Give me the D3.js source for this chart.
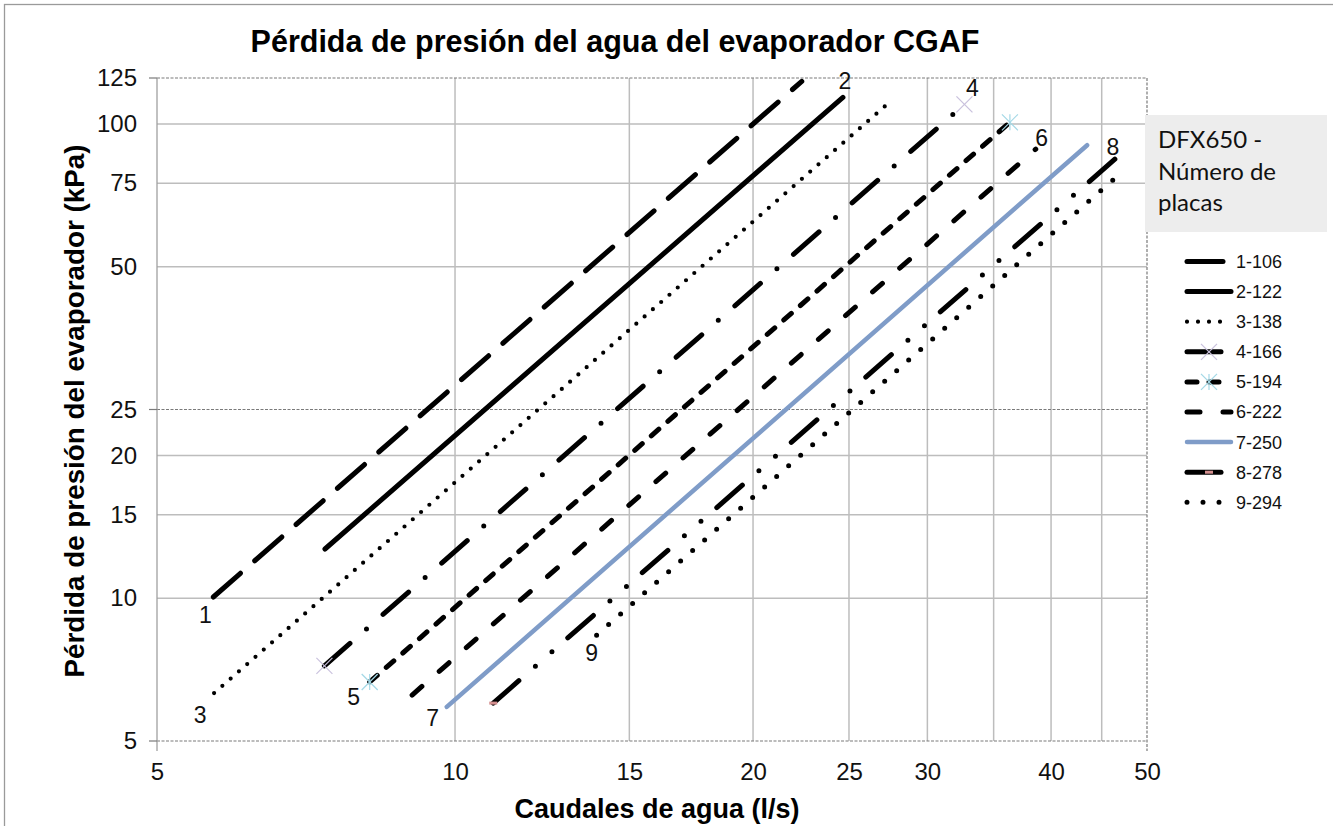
<!DOCTYPE html>
<html>
<head>
<meta charset="utf-8">
<script src="https://cdn.jsdelivr.net/npm/d3@7"></script>
<style>
  body { margin: 0; background: #fff; }
  svg { display: block; font-family: "Liberation Sans", Arial, sans-serif; }
</style>
</head>
<body>
<svg id="chart" width="1333" height="826"></svg>
<script>
// series: start and end point of each straight line (flow l/s, pressure drop kPa)
const seriesNames = ["1-106", "2-122", "3-138", "4-166", "5-194", "6-222", "7-250", "8-278", "9-294"];
const flowStart = [5.70, 7.39, 5.71, 7.38, 8.20, 9.05, 9.81, 10.93, 13.9];
const dropStart = [10.06, 12.7, 6.31, 7.20, 6.66, 6.25, 5.90, 6.01, 8.36];
const flowEnd = [22.4, 24.65, 27.4, 32.7, 36.35, 38.6, 43.5, 46.4, 46.3];
const dropEnd = [123, 113.8, 110.6, 110, 100.8, 88.5, 90.2, 84.3, 76.5];

// axis values
const xTickValues = [5, 10, 15, 20, 25, 30, 40, 50];
const xMinorGrid = [10, 15, 20, 25, 30, 35, 40, 45];
const yTickValues = [5, 10, 15, 20, 25, 50, 75, 100, 125];
const yMinorGrid = [10, 15, 20, 50, 75, 100];
const yMajorGrid = [5, 25, 125];

const chartTitle = "Pérdida de presión del agua del evaporador CGAF";
const xTitle = "Caudales de agua (l/s)";
const yTitle = "Pérdida de presión del evaporador (kPa)";
const legendTitle = ["DFX650 -", "Número de", "placas"];

// line looks, one per series
const lineStyles = [
  { stroke: "#000", width: 5, dash: "36,19" },
  { stroke: "#000", width: 5, dash: null },
  { stroke: "#000", width: 4.2, dash: "0,11" },
  { stroke: "#000", width: 5, dash: "34,22,0,22" },
  { stroke: "#000", width: 5, dash: "10,12" },
  { stroke: "#000", width: 5, dash: "13,23" },
  { stroke: "#7f9cc8", width: 4.5, dash: null },
  { stroke: "#000", width: 5, dash: "34,22,0,22,0,21" },
  { stroke: "#000", width: 5, dash: "0,16" }
];
// markers drawn at the line ends (Excel style)
const markerStyles = [null, null, null,
  { shape: "x", color: "#c9c1dd", ends: [0, 1] },
  { shape: "star", color: "#a3d8e6", ends: [0, 1] },
  null, null,
  { shape: "dash", color: "#d48f8f", ends: [0] },
  null];
// where the series number sits: which end, and offset in px
const labelPlace = [
  { end: 0, dx: -8, dy: 18 }, { end: 1, dx: 2, dy: -17 }, { end: 0, dx: -14, dy: 22 },
  { end: 1, dx: 8, dy: -17 }, { end: 0, dx: -16, dy: 15 }, { end: 1, dx: 6, dy: -11 },
  { end: 0, dx: -14, dy: 11 }, { end: 1, dx: -2, dy: -12 }, { end: 0, dx: -5, dy: 18 }
];

const svg = d3.select("#chart");
const plotLeft = 157, plotRight = 1147, plotTop = 78, plotBottom = 741;

const x = d3.scaleLog().domain([5, 50]).range([plotLeft, plotRight]);
const y = d3.scaleLog().domain([5, 125]).range([plotBottom, plotTop]);

svg.append("rect").attr("width", 1333).attr("height", 826).attr("fill", "#fff");
// outer frame of the chart
svg.append("rect").attr("x", 4.5).attr("y", 4.5).attr("width", 1340).attr("height", 840)
  .attr("fill", "none").attr("stroke", "#9a9a9a").attr("stroke-width", 1.3);

// gridlines
const grid = svg.append("g");
grid.selectAll(".vminor").data(xMinorGrid).enter().append("line")
  .attr("x1", d => x(d)).attr("x2", d => x(d)).attr("y1", plotTop).attr("y2", plotBottom)
  .attr("stroke", "#bdbdbd").attr("stroke-width", 1.5);
grid.selectAll(".hminor").data(yMinorGrid).enter().append("line")
  .attr("x1", plotLeft).attr("x2", plotRight).attr("y1", d => y(d)).attr("y2", d => y(d))
  .attr("stroke", "#bdbdbd").attr("stroke-width", 1.5);
grid.selectAll(".hmajor").data(yMajorGrid).enter().append("line")
  .attr("x1", plotLeft).attr("x2", plotRight).attr("y1", d => y(d)).attr("y2", d => y(d))
  .attr("stroke", "#7a7a7a").attr("stroke-width", 1.2).attr("stroke-dasharray", "3,1.5");
// right edge (50) dashed, left axis solid
grid.append("line").attr("x1", x(50)).attr("x2", x(50)).attr("y1", plotTop).attr("y2", plotBottom + 10)
  .attr("stroke", "#7a7a7a").attr("stroke-width", 1.2).attr("stroke-dasharray", "3,1.5");
grid.append("line").attr("x1", x(5)).attr("x2", x(5)).attr("y1", plotTop).attr("y2", plotBottom + 10)
  .attr("stroke", "#a0a0a0").attr("stroke-width", 1.3);
// major tick marks on the left
grid.selectAll(".ytick").data(yMajorGrid).enter().append("line")
  .attr("x1", plotLeft - 8).attr("x2", plotLeft).attr("y1", d => y(d)).attr("y2", d => y(d))
  .attr("stroke", "#7a7a7a").attr("stroke-width", 1.2);

// axes labels via d3 axes
const yAxis = svg.append("g").attr("transform", `translate(${plotLeft},0)`)
  .call(d3.axisLeft(y).tickValues(yTickValues).tickFormat(d3.format("d")).tickSize(0).tickPadding(20));
const xAxis = svg.append("g").attr("transform", `translate(0,${plotBottom})`)
  .call(d3.axisBottom(x).tickValues(xTickValues).tickFormat(d3.format("d")).tickSize(0).tickPadding(22));
[yAxis, xAxis].forEach(a => {
  a.select(".domain").remove();
  a.selectAll("text").attr("font-family", "Liberation Sans, Arial, sans-serif")
    .attr("font-size", 24).attr("fill", "#111");
});

// series lines
const line = d3.line().x(d => x(d[0])).y(d => y(d[1]));
const seriesData = seriesNames.map((name, i) => ({
  name: name,
  points: [[flowStart[i], dropStart[i]], [flowEnd[i], dropEnd[i]]],
  style: lineStyles[i],
  marker: markerStyles[i],
  label: labelPlace[i]
}));

svg.append("g").selectAll("path").data(seriesData).enter().append("path")
  .attr("d", d => line(d.points))
  .attr("fill", "none")
  .attr("stroke", d => d.style.stroke)
  .attr("stroke-width", d => d.style.width)
  .attr("stroke-linecap", "round")
  .attr("stroke-dasharray", d => d.style.dash);

function drawMarker(g, shape, color, cx, cy) {
  const s = 8;
  if (shape === "x" || shape === "star") {
    g.append("line").attr("x1", cx - s).attr("y1", cy - s).attr("x2", cx + s).attr("y2", cy + s)
      .attr("stroke", color).attr("stroke-width", 1.2);
    g.append("line").attr("x1", cx - s).attr("y1", cy + s).attr("x2", cx + s).attr("y2", cy - s)
      .attr("stroke", color).attr("stroke-width", 1.2);
  }
  if (shape === "star") {
    g.append("line").attr("x1", cx).attr("y1", cy - s).attr("x2", cx).attr("y2", cy + s)
      .attr("stroke", color).attr("stroke-width", 1.2);
  }
  if (shape === "dash") {
    g.append("rect").attr("x", cx - 4).attr("y", cy - 1.5).attr("width", 8).attr("height", 3)
      .attr("fill", color);
  }
}

const markers = svg.append("g");
seriesData.forEach(d => {
  if (!d.marker) return;
  d.marker.ends.forEach(e => {
    drawMarker(markers, d.marker.shape, d.marker.color, x(d.points[e][0]), y(d.points[e][1]));
  });
});

// series number labels
svg.append("g").selectAll("text").data(seriesData).enter().append("text")
  .attr("x", d => x(d.points[d.label.end][0]) + d.label.dx)
  .attr("y", d => y(d.points[d.label.end][1]) + d.label.dy)
  .attr("dy", "0.36em")
  .attr("text-anchor", "middle")
  .attr("font-size", 23)
  .attr("fill", "#111")
  .text(d => d.name.split("-")[0]);

// titles
svg.append("text").attr("x", 615).attr("y", 52).attr("text-anchor", "middle")
  .attr("font-size", 30.5).attr("font-weight", "bold").text(chartTitle);
svg.append("text").attr("x", 657).attr("y", 818).attr("text-anchor", "middle")
  .attr("font-size", 27).attr("font-weight", "bold").text(xTitle);
svg.append("text").attr("transform", "translate(84,411) rotate(-90)").attr("text-anchor", "middle")
  .attr("font-size", 27.8).attr("font-weight", "bold").text(yTitle);

// legend
const legend = svg.append("g");
legend.append("rect").attr("x", 1145).attr("y", 115).attr("width", 182).attr("height", 117)
  .attr("fill", "#ededed");
legend.selectAll(".lt").data(legendTitle).enter().append("text")
  .attr("x", 1158).attr("y", (d, i) => 148 + i * 31.5)
  .attr("font-family", "Lato, 'Open Sans', sans-serif").attr("font-size", 24).attr("fill", "#111")
  .text(d => d);

const rowY = i => 261.5 + i * 30.1;
const rows = legend.selectAll(".row").data(seriesData).enter().append("g");
rows.append("line")
  .attr("x1", 1187).attr("x2", 1231)
  .attr("y1", (d, i) => rowY(i)).attr("y2", (d, i) => rowY(i))
  .attr("stroke", d => d.style.stroke)
  .attr("stroke-width", d => d.style.width)
  .attr("stroke-linecap", "round")
  .attr("stroke-dasharray", d => d.style.dash);
rows.append("text")
  .attr("x", 1236).attr("y", (d, i) => rowY(i)).attr("dy", "0.36em")
  .attr("font-size", 18).attr("fill", "#111")
  .text(d => d.name);
seriesData.forEach((d, i) => {
  if (d.marker) drawMarker(legend, d.marker.shape, d.marker.color, 1209, rowY(i));
});
</script>
</body>
</html>
